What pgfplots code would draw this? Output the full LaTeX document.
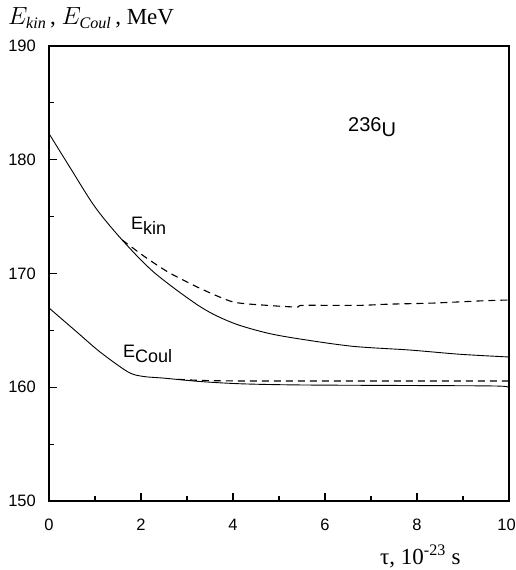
\documentclass[border=0pt]{standalone}
\usepackage{fontspec}
\setmainfont{Liberation Serif}
\setsansfont{Liberation Sans}
\usepackage{pgfplots}
\pgfplotsset{compat=1.18}
\begin{document}
\begin{tikzpicture}
\path[use as bounding box] (-49bp,-69bp) rectangle (467bp,501bp);
\begin{axis}[
  scale only axis,
  width=460bp, height=455bp,
  anchor=south west, at={(0,0)},
  xmin=0, xmax=10, ymin=150, ymax=190,
  xtick={0,2,4,6,8,10}, ytick={150,160,170,180,190},
  xticklabels={0,2,4,6,8,{\hspace*{-5bp}10}},
  minor x tick num=1, minor y tick num=1,
  tick align=inside,
  xtick pos=bottom, ytick pos=left,
  major tick length=8bp, minor tick length=5bp,
  axis line style={line width=1.6bp},
  tick style={line width=1.1bp, black},
  /pgf/number format/assume math mode=true,
  ticklabel style={font=\sffamily\fontsize{16.5bp}{17bp}\selectfont, inner sep=0pt},
  yticklabel shift=13bp,
  xticklabel shift=18bp,
  clip=false,
]
% E_kin solid
\addplot[black, line width=0.9bp, smooth, tension=0.5] coordinates {
(0,182.3) (0.46,179.3) (1.0,175.85) (1.59,172.95) (2.30,170.04) (3.3,167.05)
(4.0,165.65) (4.74,164.77) (5.46,164.24) (6.6,163.6) (7.85,163.27) (8.93,162.9) (10,162.66)};
% E_kin dashed
\addplot[black, line width=1.1bp, dash pattern=on 7bp off 5bp, smooth, tension=0.4] coordinates {
(1.59,172.95) (2.09,171.45) (2.6,170.1) (3.28,168.7) (4.0,167.5) (4.74,167.2)
(5.39,167.05) (5.52,167.2) (6.76,167.2) (7.35,167.3) (8.35,167.4) (9.43,167.6) (10,167.67)};
% E_Coul solid
\addplot[black, line width=0.9bp, smooth, tension=0.5] coordinates {
(0,166.97) (0.63,164.77) (1.11,163.1) (1.72,161.34) (2.05,160.95) (2.5,160.8)
(3.3,160.5) (4.2,160.3) (5.5,160.2) (8,160.15) (9.8,160.1) (10,159.9)};
% E_Coul dashed
\addplot[black, line width=1.1bp, dash pattern=on 7bp off 5bp, smooth, tension=0.4] coordinates {
(2.8,160.7) (3.3,160.6) (4.2,160.55) (7,160.55) (10,160.55)};
\end{axis}
% labels
\node[anchor=base west, inner sep=0pt, font=\fontsize{23bp}{25bp}\selectfont] at (-41bp,476bp)
  {$E_{\mathit{kin}}$\,, $E_{\mathit{Coul}}$\,, MeV};
\node[anchor=base west, inner sep=0pt, font=\fontsize{23bp}{25bp}\selectfont] at (331bp,-63bp)
  {τ, 10\textsuperscript{-23} s};
\node[anchor=base west, inner sep=0pt, font=\sffamily\fontsize{20bp}{22bp}\selectfont] at (299bp,369bp)
  {236\raisebox{-5bp}{U}};
\node[anchor=base west, inner sep=0pt, font=\sffamily\fontsize{18bp}{20bp}\selectfont] at (82bp,271bp)
  {E\raisebox{-5bp}{kin}};
\node[anchor=base west, inner sep=0pt, font=\sffamily\fontsize{18bp}{20bp}\selectfont] at (74bp,143bp)
  {E\raisebox{-5bp}{Coul}};
\end{tikzpicture}
\end{document}
